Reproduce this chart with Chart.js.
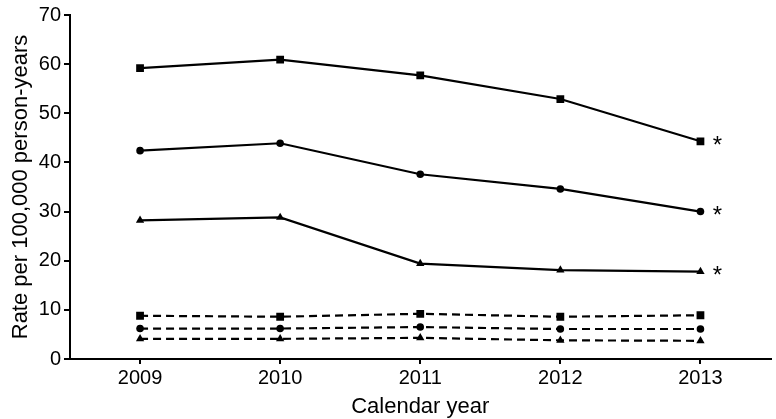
<!DOCTYPE html>
<html><head><meta charset="utf-8">
<script src="https://cdn.jsdelivr.net/npm/chart.js@4.4.1/dist/chart.umd.min.js"></script>
<style>html,body{margin:0;padding:0;background:#fff}#wrap{width:776px;height:419px}</style>
</head><body><div id="wrap"><canvas id="c"></canvas></div>
<script>
const years = ['2009','2010','2011','2012','2013'];
const solidSquare = [59.2, 60.9, 57.7, 52.9, 44.3];
const solidCircle = [42.4, 43.9, 37.6, 34.6, 30.0];
const solidTriangle = [28.2, 28.8, 19.4, 18.1, 17.8];
const dashSquare = [8.8, 8.6, 9.2, 8.6, 8.9];
const dashCircle = [6.2, 6.2, 6.5, 6.1, 6.1];
const dashTriangle = [4.1, 4.1, 4.3, 3.8, 3.7];
const yTicks = [0,10,20,30,40,50,60,70];
const starredSeries = [0,1,2];
const FONT = '"Liberation Sans", Arial, sans-serif';

function ds(data, style, dashed){
  const r = style==='rect'?5.5:(style==='circle'?3.8:4.8);
  return {data, borderColor:'#000', backgroundColor:'#000', borderWidth:2.2,
    borderDash: dashed?[8,5]:[], pointStyle:style, pointRadius:r, pointHoverRadius:r,
    pointBorderWidth:0, tension:0, fill:false};
}
const starPlugin = {
  id:'stars',
  afterDatasetsDraw(chart){
    const ctx=chart.ctx; ctx.save();
    ctx.fillStyle='#000'; ctx.font='24px ' + FONT;
    ctx.textAlign='center'; ctx.textBaseline='middle';
    starredSeries.forEach(i=>{
      const meta=chart.getDatasetMeta(i);
      const p=meta.data[meta.data.length-1];
      ctx.fillText('*', p.x+17, p.y+5);
    });
    ctx.restore();
  }
};
new Chart(document.getElementById('c'), {
  type:'line',
  data:{labels:years, datasets:[
    ds(solidSquare,'rect',false), ds(solidCircle,'circle',false), ds(solidTriangle,'triangle',false),
    ds(dashSquare,'rect',true), ds(dashCircle,'circle',true), ds(dashTriangle,'triangle',true)
  ]},
  options:{
    responsive:true, maintainAspectRatio:false, animation:false,
    layout:{padding:{top:13,right:3,left:0,bottom:0}},
    plugins:{legend:{display:false}, tooltip:{enabled:false}},
    scales:{
      x:{offset:true,
        afterFit(s){ s.height = 60; },
        grid:{display:true, drawOnChartArea:false, offset:false, tickLength:5, color:'#000', lineWidth:2},
        border:{color:'#000', width:2},
        ticks:{color:'#000', font:{size:20, family:FONT}, padding:2},
        title:{display:true, text:'Calendar year', color:'#000', font:{size:22, family:FONT, lineHeight:1.1}, padding:{top:0,bottom:0}}
      },
      y:{min:0, max:70,
        afterBuildTicks(s){ s.ticks = yTicks.map(v=>({value:v})); },
        afterFit(s){ s.width = 70; },
        grid:{display:true, drawOnChartArea:false, tickLength:6, color:'#000', lineWidth:2},
        border:{color:'#000', width:2},
        ticks:{color:'#000', font:{size:20, family:FONT}, padding:3},
        title:{display:true, text:'Rate per 100,000 person-years', color:'#000', font:{size:22, family:FONT, lineHeight:1.2}, padding:{top:8,bottom:0}}
      }
    }
  },
  plugins:[starPlugin]
});
</script></body></html>
